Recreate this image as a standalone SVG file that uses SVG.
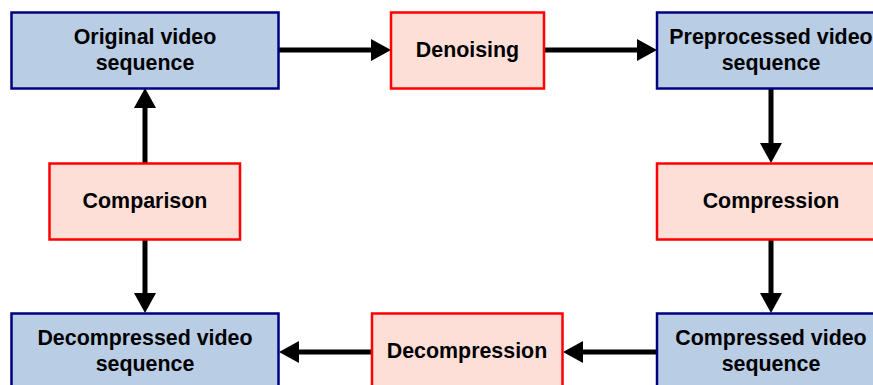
<svg xmlns="http://www.w3.org/2000/svg" width="873" height="385" viewBox="0 0 873 385">
<defs>
<style>
.data{fill:#B9CDE5;stroke:#000080;stroke-width:2.5}
.proc{fill:#FDDFD8;stroke:#FF0000;stroke-width:2.5}
text{font-family:"Liberation Sans",Arial,sans-serif;font-weight:bold;font-size:21.4px;fill:#000;text-anchor:middle}
.conn{stroke:#000;stroke-width:5;stroke-linecap:round;fill:none;marker-end:url(#arr)}
</style>
<marker id="arr" markerUnits="userSpaceOnUse" markerWidth="22" markerHeight="24" refX="8" refY="11" orient="auto" overflow="visible">
<path d="M0,0 L20,11 L0,22 Z" fill="#000"/>
</marker>
</defs>
<rect width="873" height="385" fill="#fff"/>
<g id="connectors">
<line class="conn" x1="278" y1="50" x2="379" y2="50"/>
<line class="conn" x1="544" y1="50" x2="645" y2="50"/>
<line class="conn" x1="771" y1="89" x2="771" y2="151"/>
<line class="conn" x1="771" y1="240" x2="771" y2="301"/>
<line class="conn" x1="657" y1="352" x2="575" y2="352"/>
<line class="conn" x1="372" y1="352" x2="291" y2="352"/>
<line class="conn" x1="145" y1="240" x2="145" y2="301"/>
<line class="conn" x1="145" y1="163" x2="145" y2="100"/>
</g>
<g id="original">
<rect class="data" x="11.5" y="12.5" width="267" height="76"/>
<text x="145" y="44">Original video</text>
<text x="145" y="69.5">sequence</text>
</g>
<g id="denoising">
<rect class="proc" x="391" y="12.5" width="153" height="76"/>
<text x="467.5" y="57">Denoising</text>
</g>
<g id="preprocessed">
<rect class="data" x="657" y="12.5" width="228" height="76"/>
<text x="771" y="44">Preprocessed video</text>
<text x="771" y="69.5">sequence</text>
</g>
<g id="compression">
<rect class="proc" x="657" y="163.5" width="228" height="76"/>
<text x="771" y="208">Compression</text>
</g>
<g id="compressed">
<rect class="data" x="657" y="313.5" width="228" height="76"/>
<text x="771" y="344.5">Compressed video</text>
<text x="771" y="370.5">sequence</text>
</g>
<g id="decompression">
<rect class="proc" x="372" y="313.5" width="190.5" height="76"/>
<text x="467" y="358">Decompression</text>
</g>
<g id="decompressed">
<rect class="data" x="11.5" y="313.5" width="267" height="76"/>
<text x="145" y="344.5">Decompressed video</text>
<text x="145" y="370.5">sequence</text>
</g>
<g id="comparison">
<rect class="proc" x="49.5" y="163.5" width="190.5" height="76"/>
<text x="145" y="208">Comparison</text>
</g>
</svg>
